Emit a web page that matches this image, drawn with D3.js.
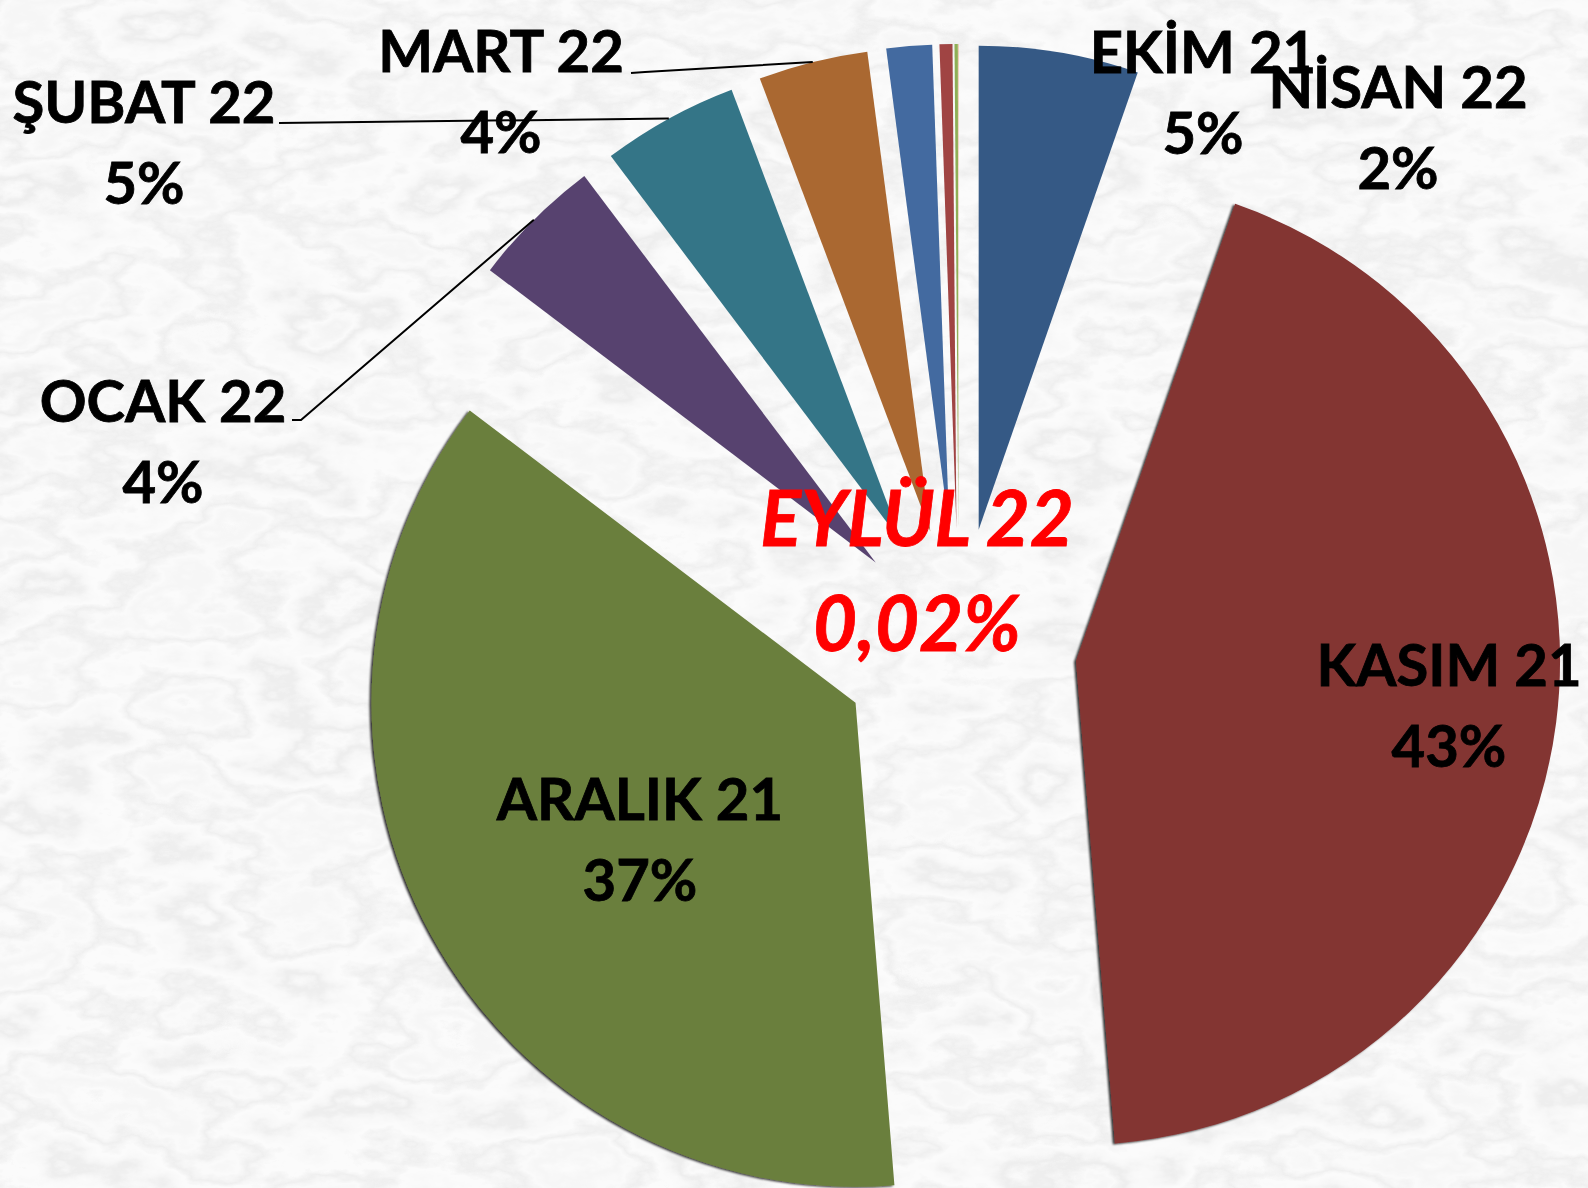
<!DOCTYPE html>
<html>
<head>
<meta charset="utf-8">
<script src="https://cdn.jsdelivr.net/npm/d3@7"></script>
<style>
  html, body { margin: 0; padding: 0; background: #f2f2f0; }
  svg { display: block; }
</style>
</head>
<body>
<div id="my_dataviz"></div>
<script>
// months (clockwise from 12 o'clock) and their share in percent
var months = ["EKİM 21", "KASIM 21", "ARALIK 21", "OCAK 22", "ŞUBAT 22", "MART 22",
              "NİSAN 22", "MAYIS 22", "HAZİRAN 22", "EYLÜL 22"];
var shares = [5.33, 43.39, 36.6, 4.4, 4.55, 3.65, 1.52, 0.43, 0.11, 0.02];
// which slices carry a label
var labelled = ["EKİM 21", "KASIM 21", "ARALIK 21", "OCAK 22", "ŞUBAT 22", "MART 22", "NİSAN 22", "EYLÜL 22"];
var colors = ["#355985", "#833432", "#6b7f3c", "#57426f", "#347587", "#aa6831",
              "#436aa0", "#a04443", "#8faf56", "#e8b890"];

var width = 1588, height = 1188;
var cx = 959, cy = 646, radius = 484, explode = 118;

var svg = d3.select("#my_dataviz")
    .append("svg")
    .attr("width", width)
    .attr("height", height);

// marble background
var defs = svg.append("defs");
var marble = defs.append("filter")
    .attr("id", "marble")
    .attr("x", 0).attr("y", 0).attr("width", "100%").attr("height", "100%");
marble.append("feTurbulence")
    .attr("type", "fractalNoise")
    .attr("baseFrequency", "0.008 0.014")
    .attr("numOctaves", 6)
    .attr("seed", 11)
    .attr("result", "noise");
marble.append("feColorMatrix")
    .attr("type", "matrix")
    .attr("values", "1 0 0 0 0  1 0 0 0 0  1 0 0 0 0  0 0 0 0 1");
var ct = marble.append("feComponentTransfer");
["R", "G", "B"].forEach(function(c) {
    ct.append("feFunc" + c)
        .attr("type", "table")
        .attr("tableValues", "0.95 0.9 0.96 0.85 0.94 0.97 0.87 0.96 0.92 0.97 0.86 0.95");
});

svg.append("rect")
    .attr("width", width)
    .attr("height", height)
    .attr("fill", "#f0f0ee")
    .attr("filter", "url(#marble)");

var drop = defs.append("filter").attr("id", "edge")
    .attr("x", "-5%").attr("y", "-5%").attr("width", "110%").attr("height", "110%");
drop.append("feDropShadow")
    .attr("dx", -2).attr("dy", 1).attr("stdDeviation", 0.8)
    .attr("flood-color", "#000").attr("flood-opacity", 0.8);

var pieData = months.map(function(m, i) { return {name: m, value: shares[i]}; });

var color = d3.scaleOrdinal()
    .domain(months)
    .range(colors);

var pie = d3.pie()
    .sort(null)
    .value(function(d) { return d.value; });

var arcs = pie(pieData);

var arc = d3.arc()
    .innerRadius(0)
    .outerRadius(radius);

function mid(d) { return (d.startAngle + d.endAngle) / 2; }
function offset(d, k) {
    var a = mid(d);
    return [cx + k * Math.sin(a), cy - k * Math.cos(a)];
}

// the exploded slices
svg.selectAll("mySlices")
    .data(arcs)
    .enter()
    .append("path")
    .attr("d", arc)
    .attr("transform", function(d) { var p = offset(d, explode); return "translate(" + p[0] + "," + p[1] + ")"; })
    .attr("fill", function(d) { return color(d.data.name); })
    .attr("filter", function(d) { return d.data.value > 20 ? "url(#edge)" : null; });

// label placement (centre x, first baseline) and leader starts
var labelPos = {
    "EKİM 21":   {x: 1203, y: 73},
    "NİSAN 22":  {x: 1398, y: 108},
    "KASIM 21":  {x: 1449, y: 686},
    "ARALIK 21": {x: 640,  y: 820},
    "OCAK 22":   {x: 163,  y: 422, lead: [[292, 420], [301, 420]]},
    "ŞUBAT 22":  {x: 144,  y: 123, lead: [[279, 123]]},
    "MART 22":   {x: 501,  y: 72,  lead: [[631, 73], [645, 72]]},
    "EYLÜL 22":  {x: 917,  y: 546}
};

var pctFmt = function(v) {
    return v < 1 ? d3.format(".2f")(v).replace(".", ",") + "%" : Math.round(v) + "%";
};

var labArcs = arcs.filter(function(d) { return labelled.indexOf(d.data.name) >= 0; });

// leader lines to the outer edge of the slice
svg.selectAll("myLeaders")
    .data(labArcs.filter(function(d) { return labelPos[d.data.name].lead; }))
    .enter()
    .append("polyline")
    .attr("points", function(d) {
        var pts = labelPos[d.data.name].lead.concat([offset(d, explode + radius)]);
        return pts.map(function(p) { return p.join(","); }).join(" ");
    })
    .attr("fill", "none")
    .attr("stroke", "#000")
    .attr("stroke-width", 2);

var labels = svg.selectAll("myLabels")
    .data(labArcs)
    .enter()
    .append("text")
    .attr("text-anchor", "middle")
    .style("font-family", "Lato, 'Open Sans', sans-serif")
    .style("font-weight", "bold")
    .style("font-size", function(d) { return d.data.value < 0.1 ? "76px" : "58px"; })
    .style("font-style", function(d) { return d.data.value < 0.1 ? "italic" : "normal"; })
    .style("fill", function(d) { return d.data.value < 0.1 ? "#ff0000" : "#000"; })
    .style("stroke", function(d) { return d.data.value < 0.1 ? "#ff0000" : "#000"; })
    .style("stroke-width", 0.8);

labels.append("tspan")
    .attr("x", function(d) { return labelPos[d.data.name].x; })
    .attr("y", function(d) { return labelPos[d.data.name].y; })
    .text(function(d) { return d.data.name; });

labels.append("tspan")
    .attr("x", function(d) { return labelPos[d.data.name].x; })
    .attr("y", function(d) { return labelPos[d.data.name].y + (d.data.value < 0.1 ? 105 : 81); })
    .text(function(d) { return pctFmt(d.data.value); });
</script>
</body>
</html>
